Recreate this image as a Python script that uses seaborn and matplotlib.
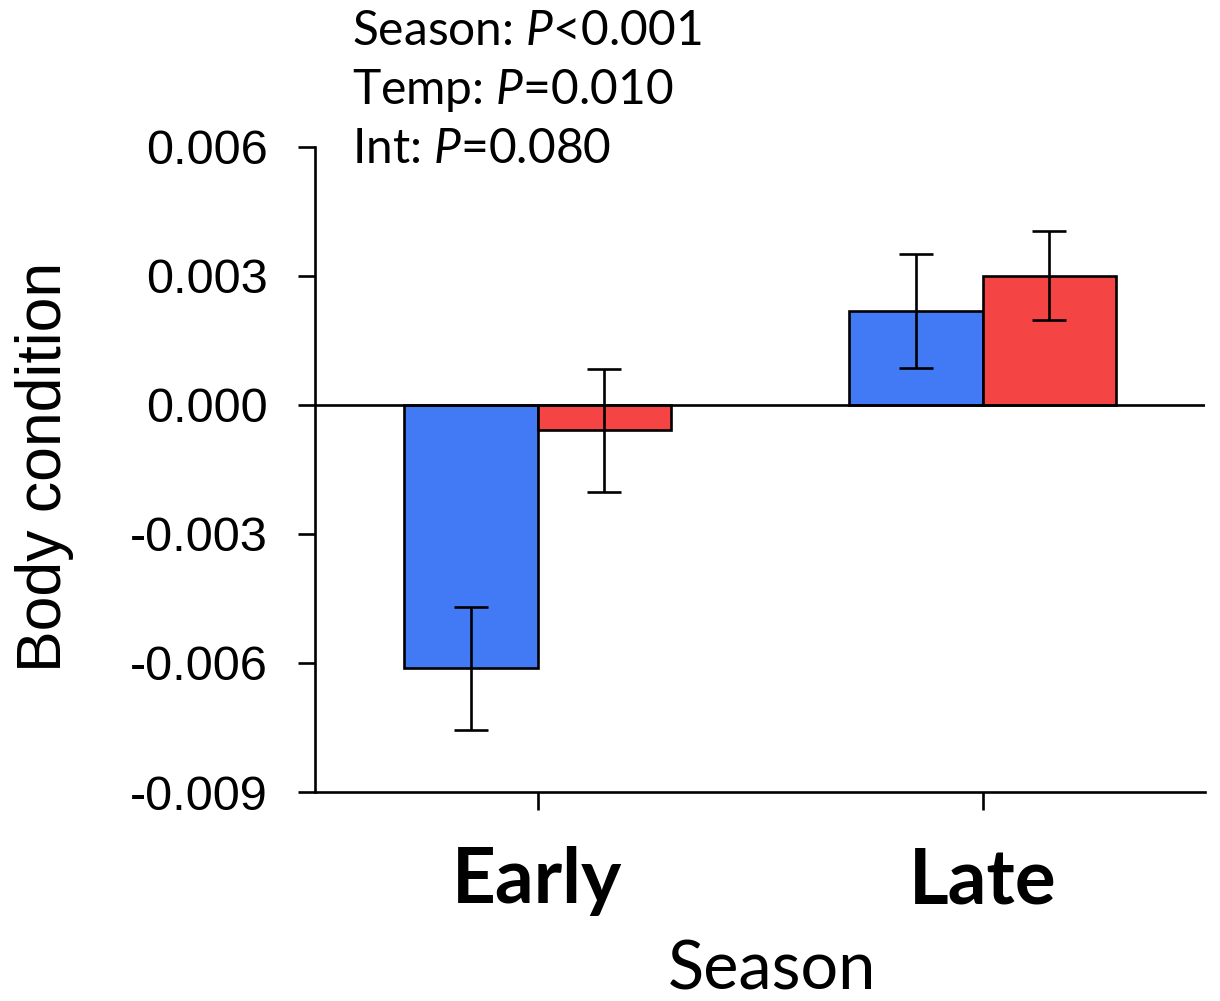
import matplotlib
matplotlib.use("Agg")
import matplotlib.pyplot as plt
import seaborn as sns
import pandas as pd
import numpy as np

# Body condition by season and temperature treatment (mean ± SE)
seasons = ["Early", "Late"]
treatments = ["Ambient", "Warm"]
means = {
    "Ambient": [-0.00612, 0.00219],
    "Warm": [-0.00059, 0.00301],
}
errors = {
    "Ambient": [0.00143, 0.00133],
    "Warm": [0.00143, 0.00103],
}
palette = {"Ambient": "#4279F4", "Warm": "#F44444"}
y_ticks = [-0.009, -0.006, -0.003, 0.000, 0.003, 0.006]
stats_lines = [
    r"Season: $\mathit{P}$<0.001",
    r"Temp: $\mathit{P}$=0.010",
    r"Int: $\mathit{P}$=0.080",
]

rows = []
for t in treatments:
    for s, m, e in zip(seasons, means[t], errors[t]):
        rows.append({"Season": s, "Treatment": t, "value": m, "se": e})
df = pd.DataFrame(rows)

sns.set_theme(style="ticks")
plt.rcParams["font.family"] = ["Liberation Sans", "DejaVu Sans"]
plt.rcParams["mathtext.fontset"] = "custom"
plt.rcParams["mathtext.rm"] = "Lato"
plt.rcParams["mathtext.it"] = "Lato:italic"

fig = plt.figure(figsize=(12.2, 10.01), dpi=100)
ax = fig.add_axes([315 / 1220, 1 - 792 / 1001, 890 / 1220, 645 / 1001])

LW = 1.9

sns.barplot(data=df, x="Season", y="value", hue="Treatment", order=seasons,
            hue_order=treatments, palette=palette, width=0.6, errorbar=None,
            edgecolor="black", linewidth=LW, saturation=1, legend=False, ax=ax)

# Error bars at the centre of each bar
for container, t in zip(ax.containers, treatments):
    sub = df[df["Treatment"] == t].set_index("Season").loc[seasons]
    xs = [p.get_x() + p.get_width() / 2 for p in container.patches]
    ax.errorbar(xs, sub["value"].values, yerr=sub["se"].values, fmt="none",
                ecolor="black", elinewidth=LW, capsize=12.5, capthick=LW,
                zorder=5)

ax.axhline(0, color="black", lw=LW, zorder=4)

ax.set_xlim(-0.5, 1.5)
ax.set_ylim(-0.009, 0.006)
ax.set_yticks(y_ticks)
ax.set_yticklabels([f"{v:.3f}" for v in y_ticks])
sns.despine(ax=ax)
for side in ["left", "bottom"]:
    ax.spines[side].set_linewidth(LW)
    ax.spines[side].set_color("black")

ax.tick_params(axis="y", length=12, width=LW, pad=22, labelsize=35,
               colors="black", direction="out")
ax.tick_params(axis="x", length=13, width=LW, pad=26, colors="black",
               direction="out")
for lab in ax.get_xticklabels():
    lab.set_fontfamily("Lato")
    lab.set_fontweight("bold")
    lab.set_fontsize(55)

ax.set_xlabel("Season", fontfamily="Lato", fontsize=48, color="black")
ax.xaxis.set_label_coords(0.514, -0.228)
ax.set_ylabel("")
fig.text(45 / 1220, 1 - 467 / 1001, "Body condition", rotation=90,
         ha="center", va="center", fontsize=45, color="black")

for i, line in enumerate(stats_lines):
    fig.text(352 / 1220, 1 - (45 + 59 * i) / 1001, line, ha="left",
             va="baseline", fontfamily="Lato", fontsize=34.5, color="black")

fig.savefig("out.png", dpi=100, facecolor="white")
